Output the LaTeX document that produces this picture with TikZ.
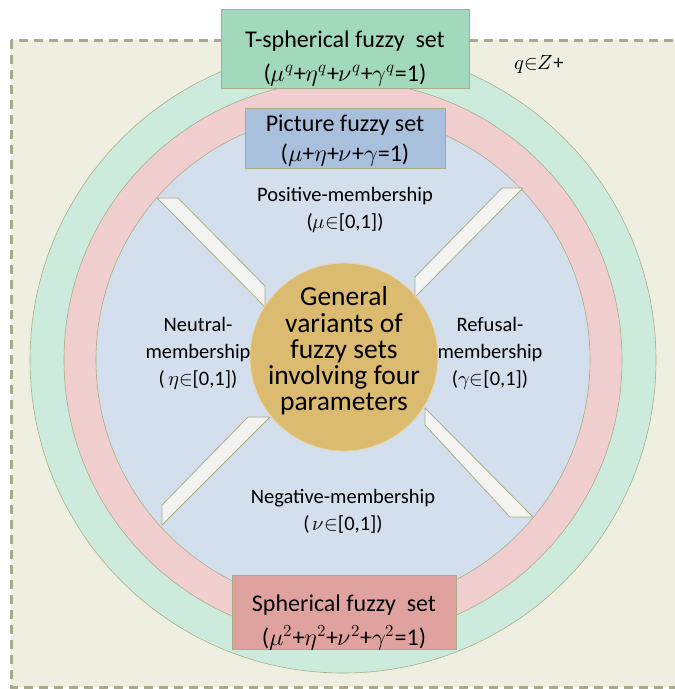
\documentclass[tikz,border=0pt]{standalone}
\usepackage{fontspec}
\usepackage{unicode-math}
\setmainfont{Carlito}
\usetikzlibrary{positioning}

\definecolor{bgcol}{HTML}{EEEFE0}
\definecolor{dashcol}{HTML}{A8AA8A}
\definecolor{ringgreen}{HTML}{CDEBDD}
\definecolor{ringpink}{HTML}{F1CFCF}
\definecolor{ringblue}{HTML}{D3DFEC}
\definecolor{corecol}{HTML}{DBBB6F}
\definecolor{edgecol}{HTML}{A9AD86}
\definecolor{tsphcol}{HTML}{A2D9BC}
\definecolor{piccol}{HTML}{A9C0DC}
\definecolor{sphcol}{HTML}{E0A29F}
\definecolor{stripcol}{HTML}{F3F3F1}

\tikzset{
  setbox/.style={draw=edgecol, line width=0.9pt, inner sep=0pt},
  ring/.style={draw=edgecol, line width=0.6pt},
  strip/.style={draw=edgecol, fill=stripcol, line width=0.8pt, line join=round},
  bigtext/.style={align=center, inner sep=0pt, font=\fontsize{24}{34}\selectfont},
  parttext/.style={align=center, inner sep=0pt, font=\fontsize{20.5}{27}\selectfont}
}

\begin{document}
\begin{tikzpicture}[x=1pt, y=-1pt]
    \clip (0,0) rectangle (675,689);

    % Draw the dashed frame
    \draw[dashcol, fill=bgcol, line width=3pt, dash pattern=on 9pt off 6pt] (11,40) rectangle (700,687);

    % Draw the rings
    \fill[ringgreen, ring, draw=edgecol] (343,360) circle (313pt);
    \fill[ringpink, ring, draw=edgecol] (343,360) circle (279pt);
    \fill[ringblue, ring, draw=edgecol] (343,360) circle (247pt);

    % Draw the four strips
    \draw[strip] (157,198) -- (178,198) -- (265,286) -- (265,307) -- cycle;
    \draw[strip] (502,188) -- (523,188) -- (415,297) -- (415,277) -- cycle;
    \draw[strip] (248,417) -- (270,417) -- (162,525) -- (162,505) -- cycle;
    \draw[strip] (425,408) -- (533,517) -- (510,517) -- (425,425) -- cycle;

    % Centre circle
    \node[circle, fill=corecol, draw=corecol!60!white, line width=0.8pt, minimum size=188pt, inner sep=0pt] (core) at (344,357) {};
    \node[bigtext, font=\fontsize{27.5}{26.3}\selectfont] (coretext) at (344,351) {General\\variants of\\fuzzy sets\\involving four\\parameters};

    % Boxes for the three kinds of sets
    \node[setbox, fill=tsphcol, minimum width=248pt, minimum height=79pt] (tsph) at (345,48.5) {};
    \node[bigtext] (tsphtext) at (345,58.5) {T-spherical fuzzy\ \ set\\($\mu^q$+$\eta^q$+$\nu^q$+$\gamma^q$=1)};

    \node[setbox, fill=piccol, minimum width=200pt, minimum height=60pt] (pic) at (345,138) {};
    \node[bigtext, font=\fontsize{24}{30}\selectfont] (pictext) at (345,140.5) {Picture fuzzy set\\($\mu$+$\eta$+$\nu$+$\gamma$=1)};

    \node[setbox, fill=sphcol, minimum width=224pt, minimum height=74pt] (sph) at (344,612) {};
    \node[bigtext] (sphtext) at (344,622.5) {Spherical fuzzy\ \ set\\($\mu^2$+$\eta^2$+$\nu^2$+$\gamma^2$=1)};

    % Labels for the four parameters
    \node[parttext] (pos) at (345,210) {Positive-membership\\($\mu{\in}$[0,1])};
    \node[parttext] (neu) at (198,354) {Neutral-\\membership\\(\,$\eta{\in}$[0,1])};
    \node[parttext] (ref) at (490,354) {Refusal-\\membership\\($\gamma{\in}$[0,1])};
    \node[parttext] (neg) at (343,511) {Negative-membership\\(\,$\nu{\in}$[0,1])};

    % Range of q
    \node[parttext] (qrange) at (539,64) {$q{\in}Z$+};
\end{tikzpicture}
\end{document}
